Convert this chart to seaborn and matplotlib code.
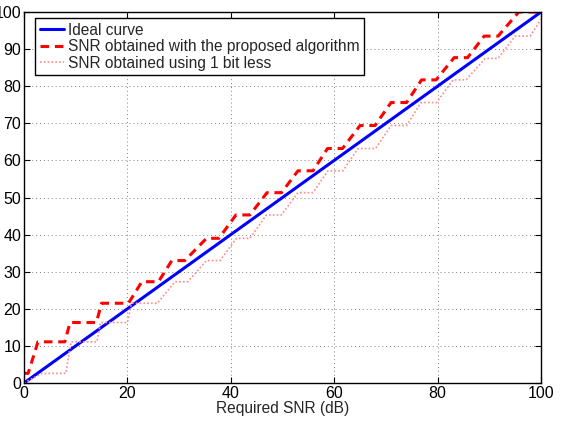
import matplotlib
matplotlib.use("Agg")
import matplotlib.pyplot as plt
import seaborn as sns
import pandas as pd

# ---- data ----
ideal_x = [0, 100]
ideal_y = [0, 100]

red_x = [0, 0.8, 2.7, 7.9, 8.9, 14, 15, 20.2, 22.8, 26, 28.6, 31.1, 35.3, 37.7,
         41, 43.7, 47, 49.8, 53, 55.9, 58.7, 61.6, 65, 67.9, 71, 74, 76.9, 79.7,
         83.2, 85.8, 89, 91.7, 95.7, 100]
red_y = [2.6, 2.6, 11.1, 11.1, 16.3, 16.3, 21.5, 21.5, 27.3, 27.3, 33.0, 33.0,
         39.0, 39.0, 45.3, 45.3, 51.3, 51.3, 57.2, 57.2, 63.2, 63.2, 69.4, 69.4,
         75.6, 75.6, 81.7, 81.7, 87.7, 87.7, 93.5, 93.5, 100, 100]

pink_x = [0, 3.5, 8.1, 9.1, 14.1, 14.8, 20, 20.8, 25.8, 29.2, 31.7, 35.3, 37.9,
          41.1, 43.7, 46.9, 49.8, 53, 55.9, 58.8, 61.7, 64.6, 68, 71, 74, 76.8,
          79.8, 83, 85.5, 89.2, 91.7, 95, 97.9, 100]
pink_y = [0, 2.6, 2.6, 11.1, 11.1, 16.3, 16.3, 21.5, 21.5, 27.3, 27.3, 33.0, 33.0,
          39.0, 39.0, 45.3, 45.3, 51.3, 51.3, 57.2, 57.2, 63.2, 63.2, 69.4, 69.4,
          75.6, 75.6, 81.7, 81.7, 87.5, 87.5, 93.5, 93.5, 98.0]

labels = ["Ideal curve",
          "SNR obtained with the proposed algorithm",
          "SNR obtained using 1 bit less"]
x_ticks = [0, 20, 40, 60, 80, 100]
y_ticks = [0, 10, 20, 30, 40, 50, 60, 70, 80, 90, 100]
x_label = "Required SNR (dB)"

# ---- style ----
sns.set_theme(style="white")
plt.rcParams['font.family'] = ['Liberation Sans', 'DejaVu Sans']
plt.rcParams['font.size'] = 11

fig = plt.figure(figsize=(5.61, 4.24), dpi=100)
ax = fig.add_axes([24 / 561, 1 - 383 / 424, 517 / 561, 371 / 424])

df_ideal = pd.DataFrame({"x": ideal_x, "y": ideal_y})
df_red = pd.DataFrame({"x": red_x, "y": red_y})
df_pink = pd.DataFrame({"x": pink_x, "y": pink_y})

sns.lineplot(data=df_ideal, x="x", y="y", ax=ax, color="#0000ff", linewidth=2.2,
             sort=False, estimator=None, label=labels[0])
sns.lineplot(data=df_red, x="x", y="y", ax=ax, color="#ff0000", linewidth=2.2,
             sort=False, estimator=None, label=labels[1], dashes=False,
             linestyle=(0, (2.8, 1.9)))
sns.lineplot(data=df_pink, x="x", y="y", ax=ax, color="#ff8a8a", linewidth=1.2,
             sort=False, estimator=None, label=labels[2], dashes=False,
             linestyle=(0, (1, 1.3)))

ax.set_xlim(0, 100)
ax.set_ylim(0, 100)
ax.set_xticks(x_ticks)
ax.set_yticks(y_ticks)
ax.set_xticklabels([str(t) for t in x_ticks])
ax.set_yticklabels([str(t) for t in y_ticks])
ax.set_xlabel(x_label, fontsize=11.2, labelpad=0)
ax.set_ylabel("")

ax.tick_params(axis='both', which='both', direction='in', length=4, width=0.8,
               colors='black', labelsize=11.5, top=True, right=True,
               bottom=True, left=True, pad=2)

for s in ax.spines.values():
    s.set_visible(True)
    s.set_color('black')
    s.set_linewidth(1.0)

ax.grid(True, color='#808080', linestyle=(0, (1, 3)), linewidth=0.7)
ax.set_axisbelow(True)

leg = ax.legend(loc='upper left', bbox_to_anchor=(0.021, 0.984), borderaxespad=0,
                fontsize=11.2, frameon=True, fancybox=False, shadow=False,
                handlelength=1.6, handletextpad=0.2, labelspacing=0.1,
                borderpad=0.3)
leg.get_frame().set_edgecolor('black')
leg.get_frame().set_linewidth(1.0)
leg.get_frame().set_alpha(1.0)

fig.savefig("out.png", dpi=100)
